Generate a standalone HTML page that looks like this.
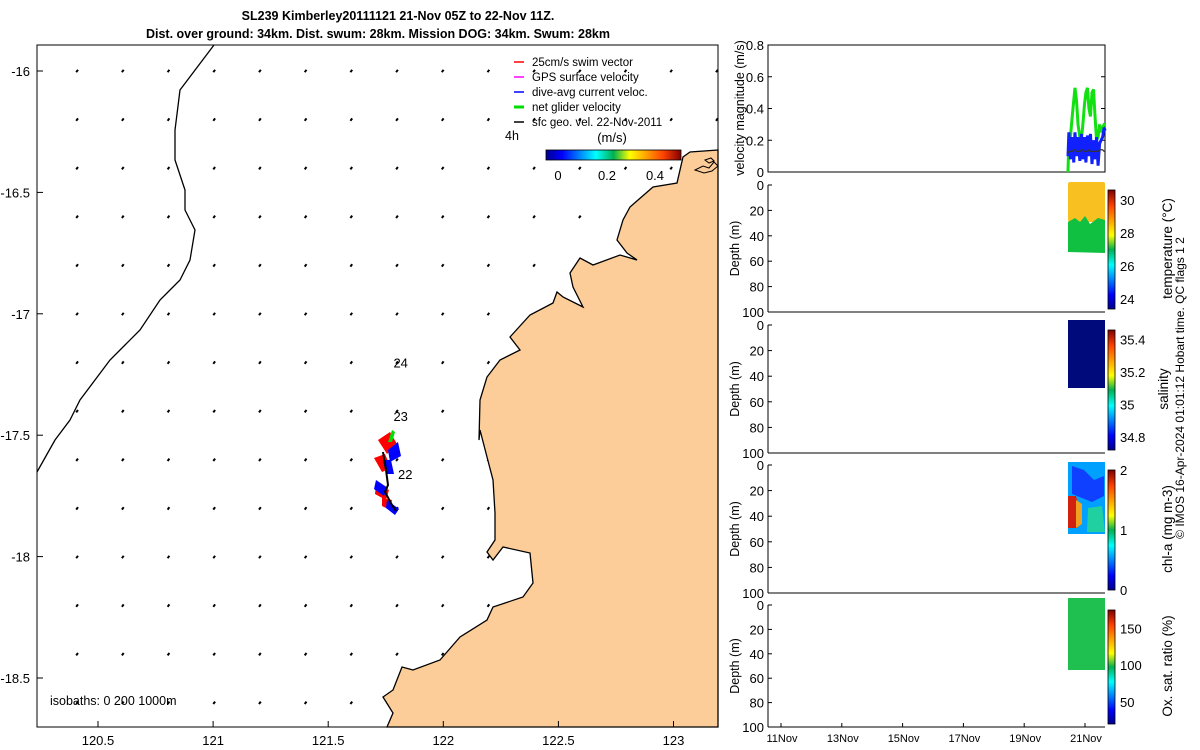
<!DOCTYPE html>
<html><head><meta charset="utf-8"><style>
html,body{margin:0;padding:0;background:#fff;width:1200px;height:750px;overflow:hidden}
svg{font-family:"Liberation Sans",sans-serif}
</style></head><body>
<svg id="s" width="1200" height="750">
<text x="398" y="20" text-anchor="middle" font-size="12.5" font-weight="bold">SL239 Kimberley20111121 21-Nov 05Z to 22-Nov 11Z.</text>
<text x="378" y="38" text-anchor="middle" font-size="12.5" font-weight="bold">Dist. over ground: 34km. Dist. swum: 28km. Mission DOG: 34km. Swum: 28km</text>
<g id="map"></g>
<g id="right"></g>
<text transform="translate(1184,388) rotate(-90)" text-anchor="middle" font-size="12">© IMOS 16-Apr-2024 01:01:12 Hobart time. QC flags 1  2</text>
<defs>
<linearGradient id="jet" x1="0" y1="0" x2="1" y2="0">
<stop offset="0" stop-color="#00008f"/><stop offset="0.12" stop-color="#0000ff"/><stop offset="0.37" stop-color="#00ffff" /><stop offset="0.5" stop-color="#00b050"/><stop offset="0.62" stop-color="#ffff00"/><stop offset="0.87" stop-color="#ff4000"/><stop offset="1" stop-color="#800000"/></linearGradient>
<linearGradient id="jetv" x1="0" y1="1" x2="0" y2="0">
<stop offset="0" stop-color="#00008f"/><stop offset="0.12" stop-color="#0000ff"/><stop offset="0.37" stop-color="#00ffff" /><stop offset="0.5" stop-color="#00b050"/><stop offset="0.62" stop-color="#ffff00"/><stop offset="0.87" stop-color="#ff4000"/><stop offset="1" stop-color="#800000"/></linearGradient>
</defs>
</svg>
<script>
const NS="http://www.w3.org/2000/svg";
// ---- data ----
const lonTicks=[120.5,121,121.5,122,122.5,123];
const latTicks=[-16,-16.5,-17,-17.5,-18,-18.5];
const velTime=[20.44,20.47,20.52,20.58,20.63,20.67,20.72,20.77,20.83,20.88,20.93,20.98,21.03,21.08,21.13,21.18,21.23,21.28,21.33,21.38,21.43,21.48,21.53,21.58,21.63,21.66];
const netVel=[0.0,0.2,0.22,0.35,0.45,0.53,0.45,0.3,0.22,0.2,0.3,0.42,0.5,0.53,0.4,0.35,0.5,0.52,0.35,0.2,0.22,0.3,0.25,0.28,0.3,0.3];
const curVel=[0.1,0.25,0.08,0.22,0.06,0.25,0.1,0.22,0.07,0.24,0.08,0.22,0.06,0.23,0.1,0.24,0.05,0.2,0.08,0.22,0.04,0.18,0.2,0.22,0.28,0.26];
const geoVel=[0.12,0.13,0.13,0.13,0.14,0.14,0.13,0.13,0.13,0.14,0.14,0.13,0.13,0.13,0.14,0.13,0.13,0.13,0.13,0.13,0.13,0.14,0.14,0.14,0.13,0.13];
const dateTicks=[11,13,15,17,19,21];
const velTicks=[0,0.2,0.4,0.6,0.8];
const depthTicks=[0,20,40,60,80,100];
const tempTicks=[24,26,28,30];
const salTicks=[34.8,35,35.2,35.4];
const chlTicks=[0,1,2];
const oxTicks=[50,100,150];
const dayLabels=["24","23","22"];
const dayLabelLon=[121.74,121.74,121.76];
const dayLabelLat=[-17.2,-17.42,-17.66];

const X=lon=>98+(lon-120.5)*230.2;
const Y=lat=>71+(-16-lat)*242.8;
const svg=document.getElementById('s');
function el(t,a,p){const e=document.createElementNS(NS,t);for(const k in a)e.setAttribute(k,a[k]);(p||svg).appendChild(e);return e;}
const map=document.getElementById('map'),right=document.getElementById('right');

// arrows
for(let i=0;i<15;i++)for(let j=0;j<14;j++){
 const x=77+i*45.7,y=71+j*48.6;
 const a=el('path',{d:`M${x+1},${y-1.2} L${x-0.8},${y+1.2}`,stroke:'#000','stroke-width':2},map);
 
 
}
// land
const land=el('path',{d:"M718,150 L690,152 683,157 677,183 653,187 630,207 623,220 617,240 627,253 637,260 620,255 593,265 580,258 570,273 573,287 583,307 563,297 557,292 553,303 530,315 510,337 520,350 500,360 487,377 480,400 479,440 480,430 487,457 493,480 495,513 495,540 487,552 493,560 503,547 530,553 533,583 523,597 493,607 487,620 460,637 440,660 413,670 402,667 393,690 383,697 393,713 387,727 718,727 Z",fill:'#fccd98',stroke:'#000','stroke-width':1.3},map);

el('path',{d:"M695,170 l8,-4 6,2 5,-6 4,4 -6,5 -8,2z M705,160 l6,-2 3,3 -5,2z",fill:'#fccd98',stroke:'#000','stroke-width':1},map);
// isobath
const iso=el('polyline',{points:"214,45 180,90 175,130 175,160 185,190 185,210 195,230 190,260 180,280 170,290 160,300 140,330 125,345 110,360 95,380 80,400 70,420 55,440 37,472",fill:'none',stroke:'#000','stroke-width':1.3},map);

// track
el('path',{d:"M378,440 l12,-8 7,12 -10,10z M374,458 l11,-4 6,14 -9,4z M376,484 l13,6 -3,10 -11,-6z M382,498 l10,2 -2,10 -8,-4z",fill:'#f00'},map);
el('path',{d:"M388,450 l10,-8 3,14 -11,6z M376,480 l12,8 -4,8 -10,-7z M387,500 l12,9 -4,6 -9,-7z M383,460 l8,0 3,14 -8,0z",fill:'#00f'},map);
el('path',{d:"M388,442 l4,-12 3,2 -3,10z",fill:'#0d0'},map);
const tr=el('polyline',{points:"383,452 386,470 388,485 385,492 392,505 396,511",fill:'none',stroke:'#000','stroke-width':2},map);

dayLabels.forEach((d,i)=>{const t=el('text',{x:X(dayLabelLon[i])+10,y:Y(dayLabelLat[i])+5,'font-size':13},map);t.textContent=d;
 });
// frame & ticks
el('rect',{x:37,y:45,width:681,height:682,fill:'none',stroke:'#000','stroke-width':1},map);
lonTicks.forEach(v=>{el('line',{x1:X(v),x2:X(v),y1:727,y2:721,stroke:'#000'},map);
 const t=el('text',{x:X(v),y:745,'font-size':13,'text-anchor':'middle'},map);t.textContent=v;
 });
latTicks.forEach(v=>{el('line',{x1:37,x2:43,y1:Y(v),y2:Y(v),stroke:'#000'},map);
 const t=el('text',{x:30,y:Y(v)+5,'font-size':13,'text-anchor':'end'},map);t.textContent=v;
 });
const ib=el('text',{x:50,y:705,'font-size':12.5},map);ib.textContent='isobaths: 0   200  1000m';

// legend
const leg=[['#f00','25cm/s swim vector'],['#f0f','GPS surface velocity'],['#00f','dive-avg current veloc.'],['#0d0','net glider velocity'],['#000','sfc geo. vel. 22-Nov-2011']];
leg.forEach((l,i)=>{const y=62+i*15;el('line',{x1:514,x2:524,y1:y,y2:y,stroke:l[0],'stroke-width':l[0]=='#0d0'?3:1.5},map);
 const t=el('text',{x:532,y:y+4,'font-size':11.5},map);t.textContent=l[1];
 });
let t4=el('text',{x:505,y:140,'font-size':12.5},map);t4.textContent='4h';
let ms=el('text',{x:612,y:142,'font-size':13,'text-anchor':'middle'},map);ms.textContent='(m/s)';
el('rect',{x:546,y:150,width:135,height:10,fill:'url(#jet)',stroke:'#000','stroke-width':0.8},map);
[[0,558],[0.2,607],[0.4,655]].forEach(c=>{const t=el('text',{x:c[1],y:180,'font-size':13,'text-anchor':'middle'},map);t.textContent=c[0];});

// ---- right panels ----
const PX0=768,PX1=1105;
const DX=d=>781+(d-11)*30.4;
// velocity panel
const VY=v=>172-v*158.75;
el('rect',{x:PX0,y:45,width:PX1-PX0,height:127,fill:'none',stroke:'#000','stroke-width':1},right);
velTicks.forEach(v=>{el('line',{x1:PX0,x2:PX0+4,y1:VY(v),y2:VY(v),stroke:'#000'},right);el('line',{x1:PX1,x2:PX1-4,y1:VY(v),y2:VY(v),stroke:'#000'},right);
 const t=el('text',{x:764,y:VY(v)+5,'font-size':13,'text-anchor':'end'},right);t.textContent=v;});
let vl=el('text',{transform:'translate(744,108) rotate(-90)','font-size':12.5,'text-anchor':'middle'},right);vl.textContent='velocity magnitude (m/s)';
function line(arr,col,w,name){const p=el('polyline',{points:arr.map((v,i)=>DX(velTime[i])+','+VY(v)).join(' '),fill:'none',stroke:col,'stroke-width':w},right);
 }
line(netVel,'#11e011',3,'net-glider-velocity-line');
line(curVel,'#1020ff',3,'current-velocity-line');
line(geoVel,'#333',1.2,'geo-velocity-line');
// depth panels
const panels=[
 {y0:185,y1:312,ticks:tempTicks,lab:'temperature (°C)',cmin:23.4,cmax:30.6},
 {y0:325,y1:453,ticks:salTicks,lab:'salinity',cmin:34.72,cmax:35.46},
 {y0:465,y1:593,ticks:chlTicks,lab:'chl-a (mg m-3)',cmin:0,cmax:2},
 {y0:605,y1:727,ticks:oxTicks,lab:'Ox. sat. ratio (%)',cmin:20,cmax:175}];
panels.forEach((p,k)=>{
 const DY=d=>p.y0+(d/100)*(p.y1-p.y0);
 el('line',{x1:PX0,x2:PX0,y1:p.y0,y2:p.y1,stroke:'#000'},right);
 el('line',{x1:PX0,x2:PX1,y1:p.y1,y2:p.y1,stroke:'#000'},right);
 depthTicks.forEach(d=>{const t=el('text',{x:764,y:DY(d)+5,'font-size':13,'text-anchor':'end'},right);t.textContent=d;
  el('line',{x1:PX0,x2:PX0+4,y1:DY(d),y2:DY(d),stroke:'#000'},right);});
 const dl=el('text',{transform:`translate(739,${(p.y0+p.y1)/2}) rotate(-90)`,'font-size':12.5,'text-anchor':'middle'},right);dl.textContent='Depth (m)';
 
 const cb=el('rect',{x:1108,y:p.y0+5,width:7,height:p.y1-p.y0-8,fill:'url(#jetv)',stroke:'#000','stroke-width':0.8},right);
 
 const CY=v=>p.y0+5+(p.y1-p.y0-8)*(1-(v-p.cmin)/(p.cmax-p.cmin));
 p.ticks.forEach(v=>{const t=el('text',{x:1120,y:CY(v)+5,'font-size':13},right);t.textContent=v;});
 const cl=el('text',{transform:`translate(${k==1?1168:1172},${(p.y0+p.y1)/2}) rotate(-90)`,'font-size':13.5,'text-anchor':'middle'},right);cl.textContent=p.lab;
 
});
// section blocks
el('rect',{x:1068,y:182,width:37,height:40,fill:'#f8c020',rx:2},right);
el('path',{d:"M1068,222 L1075,218 1080,222 1085,216 1090,224 1098,218 1105,220 1105,253 1068,252Z",fill:'#10c040'},right);
el('rect',{x:1068,y:320,width:37,height:68,fill:'#000a7a'},right);
el('rect',{x:1068,y:462,width:37,height:72,fill:'#00a0ff'},right);
el('path',{d:"M1072,466 l12,4 10,10 10,-4 0,20 -12,6 -20,-8z",fill:'#1040ff'},right);
el('path',{d:"M1068,496 l8,0 4,16 -3,16 -9,0z",fill:'#d02010'},right);
el('path',{d:"M1076,500 l6,4 0,20 -6,4z",fill:'#f0a020'},right);
el('path',{d:"M1088,508 l14,-2 3,26 -18,0z",fill:'#20d0a0'},right);
el('rect',{x:1068,y:598,width:37,height:72,fill:'#20c050'},right);
// date axis
dateTicks.forEach(d=>{const t=el('text',{x:DX(d)+1,y:742,'font-size':11,'text-anchor':'middle'},right);t.textContent=d+'Nov';
 
 el('line',{x1:DX(d),x2:DX(d),y1:727,y2:723,stroke:'#000'},right);});
</script>
</body></html>
